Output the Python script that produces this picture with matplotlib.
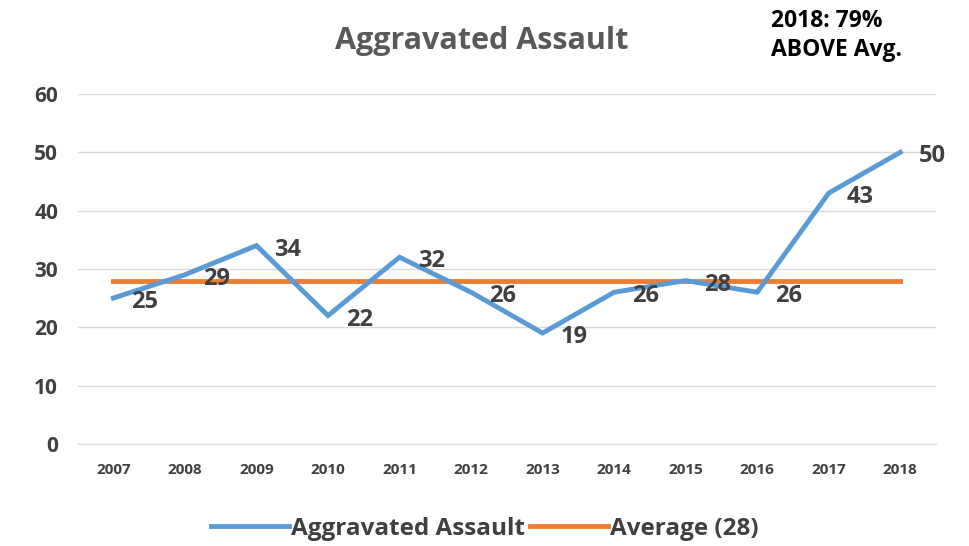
import matplotlib.pyplot as plt

# data
years = ['2007', '2008', '2009', '2010', '2011', '2012',
         '2013', '2014', '2015', '2016', '2017', '2018']
assaults = [25, 29, 34, 22, 32, 26, 19, 26, 28, 26, 43, 50]
average = 28

plt.rcParams['font.family'] = ['Open Sans', 'DejaVu Sans']
plt.rcParams['font.weight'] = 'bold'

fig = plt.figure(figsize=(9.7, 5.46), dpi=100)
ax = fig.add_axes([0.080, 0.187, 0.885, 0.641])

x = range(len(years))
ax.plot(x, assaults, color='#5B9BD5', lw=3.5, solid_joinstyle='miter',
        label='Aggravated Assault', zorder=3)
ax.plot(x, [average] * len(years), color='#ED7D31', lw=3.5,
        label='Average (28)', zorder=2)

# data labels to the right of each point
for xi, v in zip(x, assaults):
    ax.annotate(str(v), (xi, v), xytext=(13, -3), textcoords='offset points',
                ha='left', va='center', fontsize=17, fontweight='bold',
                color='#404040', zorder=4)

ax.set_xlim(-0.5, len(years) - 0.5)
ax.set_ylim(0, 60)
ax.set_yticks(range(0, 61, 10))
ax.set_xticks(list(x))
ax.set_xticklabels(years, fontsize=11, fontweight='bold', color='#404040')
ax.tick_params(axis='y', labelsize=15, colors='#404040', length=0, pad=14)
ax.tick_params(axis='x', length=0, pad=14)
for lbl in ax.get_yticklabels():
    lbl.set_fontweight('bold')
ax.grid(axis='y', color='#D9D9D9', lw=1)
ax.set_axisbelow(True)
for s in ['top', 'right', 'left']:
    ax.spines[s].set_visible(False)
ax.spines['bottom'].set_color('#D9D9D9')

fig.text(0.497, 0.925, 'Aggravated Assault', ha='center', va='center',
         fontsize=22, fontweight='bold', color='#595959')
fig.text(0.795, 0.935, '2018: 79%\nABOVE Avg.', ha='left', va='center',
         fontsize=16.5, fontweight='bold', color='black', linespacing=1.3)

fig.legend(loc='lower center', bbox_to_anchor=(0.5, -0.03), ncol=2,
           frameon=False, handlelength=3.2, handletextpad=0.1,
           columnspacing=0.2, labelcolor='#404040',
           prop={'weight': 'bold', 'size': 17.5})

fig.savefig('out.png', dpi=100)
